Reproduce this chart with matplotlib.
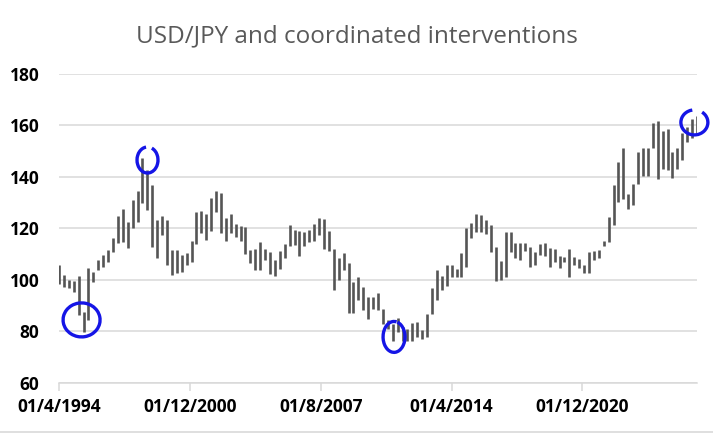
import numpy as np
import matplotlib
matplotlib.use('Agg')
import matplotlib.pyplot as plt
from matplotlib.patches import Arc
from matplotlib.lines import Line2D

# quarterly high / low of USD/JPY (first bar = Apr 1994)
highs = [105.8, 102.0, 100.0, 99.7, 101.6, 87.7, 104.5, 103.2, 107.8, 109.7,
         111.7, 116.2, 124.7, 127.5, 122.7, 131.2, 134.4, 147.4, 142.9, 137.0,
         123.4, 124.7, 123.4, 111.7, 111.7, 109.7, 110.4, 115.0, 126.5, 126.8,
         125.8, 131.7, 134.7, 133.6, 123.9, 125.6, 121.7, 120.9, 120.4, 111.6,
         112.2, 114.8, 112.2, 110.9, 107.8, 111.3, 113.9, 121.3, 119.4, 119.0,
         118.7, 119.6, 121.9, 123.9, 123.5, 119.0, 112.0, 108.5, 110.5, 106.5,
         99.3, 101.3, 97.1, 93.5, 93.5, 94.8, 88.9, 84.3, 83.0, 85.4,
         81.7, 81.0, 83.3, 83.7, 80.4, 86.9, 96.7, 103.9, 101.6, 105.9,
         105.9, 104.2, 110.5, 120.1, 122.1, 125.6, 125.1, 123.4, 121.4, 112.9,
         107.3, 118.6, 118.6, 114.2, 114.2, 114.2, 112.9, 111.0, 113.9, 114.2,
         112.3, 112.0, 109.4, 109.0, 112.0, 109.0, 108.1, 106.0, 111.0, 111.2,
         111.8, 115.3, 124.4, 136.8, 145.7, 151.4, 133.5, 137.4, 149.6, 151.1,
         151.4, 160.9, 161.6, 157.9, 158.7, 149.8, 151.1, 157.0, 159.6, 162.6,
         163.5]
lows = [98.4, 97.4, 96.8, 95.5, 86.4, 79.9, 84.4, 99.4, 103.9, 105.2,
        106.8, 111.0, 114.3, 114.9, 112.3, 120.1, 122.7, 129.9, 127.3, 113.0,
        108.4, 117.5, 105.8, 102.0, 102.6, 103.2, 105.8, 107.0, 113.9, 118.3,
        115.5, 119.1, 126.5, 118.3, 115.2, 118.3, 116.8, 115.2, 110.2, 106.7,
        103.8, 104.0, 107.8, 102.2, 101.4, 104.4, 108.7, 113.1, 113.5, 109.3,
        113.1, 114.8, 115.2, 117.5, 112.0, 111.1, 96.0, 100.0, 103.9, 87.2,
        87.2, 92.2, 88.5, 85.0, 88.9, 88.2, 83.0, 81.0, 76.5, 79.7,
        76.5, 76.5, 76.5, 77.8, 77.1, 77.8, 86.7, 92.2, 96.3, 97.6,
        101.3, 101.0, 101.3, 105.1, 116.2, 118.6, 118.8, 117.8, 111.0, 99.5,
        99.9, 101.2, 111.0, 108.4, 107.7, 111.2, 105.1, 105.8, 109.9, 109.4,
        105.1, 107.1, 104.7, 107.1, 101.2, 105.8, 104.7, 102.9, 102.9, 107.7,
        108.4, 113.3, 114.6, 121.4, 130.3, 131.6, 127.4, 129.0, 137.4, 140.4,
        140.4, 151.1, 139.4, 143.3, 142.7, 139.7, 143.3, 146.6, 153.7, 155.0,
        157.0]

# months since Apr 1994, one bar per quarter
months = np.arange(len(highs)) * 3
tick_months = [0, 80, 160, 240, 320]
tick_labels = ['01/4/1994', '01/12/2000', '01/8/2007', '01/4/2014', '01/12/2020']

# hand drawn circles round the coordinated interventions (month, value, w, h, gap start, gap end)
circ_x = [13.8, 54.1, 204.8, 388.4]
circ_y = [84.5, 146.6, 77.9, 161.2]
circ_w = [22.6, 12.8, 13.4, 16.5]
circ_h = [13.2, 10.1, 12.0, 9.7]
circ_t1 = [55, 100, 75, 105]
circ_t2 = [415, 420, 430, 400]

fig = plt.figure(figsize=(7.13, 4.33), dpi=100)
ax = fig.add_axes([59/713, 1-383/433, (697-59)/713, (383-74)/433])

ax.vlines(months, lows, highs, colors='#555555', linewidth=1.9, zorder=3)

ax.set_ylim(60, 180)
ax.set_yticks(np.arange(60, 181, 20))
ax.set_xlim(0, 390)
ax.set_xticks(tick_months)
ax.set_xticklabels(tick_labels)
ax.grid(axis='y', color='#d9d9d9', linewidth=1.1, zorder=0)
for s in ['left', 'right', 'top']:
    ax.spines[s].set_visible(False)
ax.spines['bottom'].set_color('#d9d9d9')
ax.spines['bottom'].set_linewidth(1.1)
ax.tick_params(axis='x', length=6, width=1.1, color='#d9d9d9', pad=5)
ax.tick_params(axis='y', length=0, pad=14)
for lab in ax.get_xticklabels() + ax.get_yticklabels():
    lab.set_fontfamily('Open Sans')
    lab.set_fontweight('bold')
    lab.set_fontsize(12.5)
    lab.set_color('black')

for i in range(len(circ_x)):
    a = Arc((circ_x[i], circ_y[i]), circ_w[i], circ_h[i], theta1=circ_t1[i], theta2=circ_t2[i],
            color='#1515e6', linewidth=2.4, clip_on=False, zorder=5)
    ax.add_patch(a)

fig.text(0.5, 1-36/433, 'USD/JPY and coordinated interventions', ha='center', va='center',
         fontsize=17.5, color='#595959', family='Open Sans')
fig.add_artist(Line2D([0, 1], [1.5/433, 1.5/433], color='#d9d9d9', linewidth=1.2))

fig.savefig('out.png', dpi=100, facecolor='white')
